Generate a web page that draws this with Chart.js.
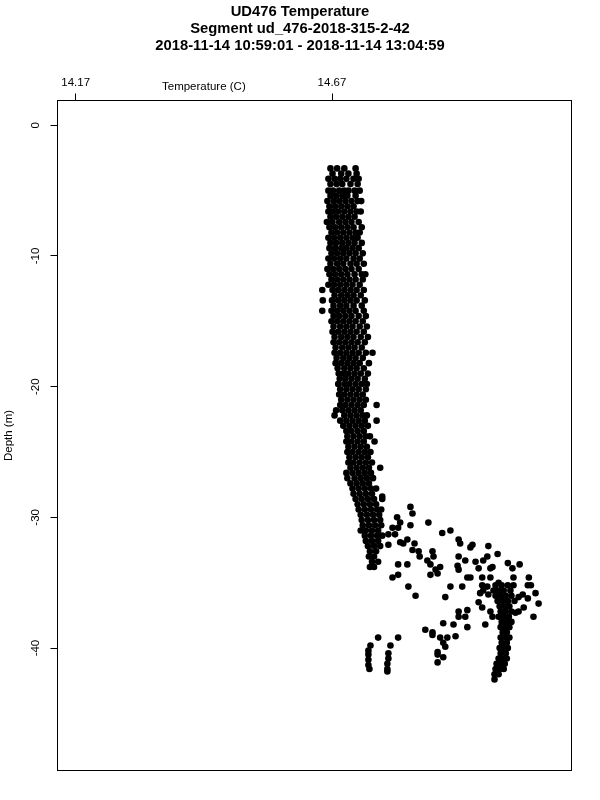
<!DOCTYPE html>
<html>
<head>
<meta charset="utf-8">
<script src="https://cdn.jsdelivr.net/npm/chart.js@4.4.0/dist/chart.umd.min.js"></script>
<style>
  html, body { margin: 0; padding: 0; background: #fff; }
  canvas { display: block; }
</style>
</head>
<body>
<canvas id="tempChart" width="600" height="800"></canvas>
<script>
const titleLines = [
  "UD476 Temperature",
  "Segment ud_476-2018-315-2-42",
  "2018-11-14 10:59:01 - 2018-11-14 13:04:59"
];
const tempTicks = [14.17, 14.67];
const depthTicks = [0, -10, -20, -30, -40];

// dense part of the profile: one row per depth level, temperatures read at that level
const rowDepths = [
  -3.3, -3.7, -4.1, -4.5, -5.0, -5.4, -5.8, -6.2, -6.6, -7.0,
  -7.4, -7.8, -8.2, -8.6, -9.0, -9.4, -9.8, -10.2, -10.6, -11.0,
  -11.4, -11.8, -12.2, -12.6, -13.0, -13.4, -13.8, -14.2, -14.6, -15.0,
  -15.4, -15.8, -16.2, -16.6, -17.0, -17.4, -17.8, -18.2, -18.6, -19.0,
  -19.4, -19.8, -20.2, -20.6, -21.0, -21.4, -21.8, -22.2, -22.6, -23.0,
  -23.4, -23.8, -24.2, -24.6, -25.0, -25.4, -25.8, -26.2, -26.6, -27.0,
  -27.4, -27.8, -28.2, -28.6, -29.0, -29.4, -29.8, -30.2, -30.6, -31.0,
  -31.4, -31.8, -32.2, -32.6, -33.0, -33.4, -33.8,
  // warm layer near the bottom
  -35.2, -35.6, -36.0, -36.4, -36.8, -37.2, -37.6, -38.0, -38.4, -38.8,
  -39.2, -39.6, -40.0, -40.4, -40.8, -41.2, -41.6, -42.0, -42.4
];
const rowTemps = [
  [14.667, 14.680, 14.694, 14.716],
  [14.671, 14.688, 14.702, 14.718],
  [14.663, 14.675, 14.686, 14.698, 14.712, 14.722],
  [14.667, 14.679, 14.690, 14.706, 14.720],
  [14.663, 14.672, 14.684, 14.694, 14.702, 14.714, 14.724],
  [14.667, 14.678, 14.690, 14.700, 14.716],
  [14.661, 14.673, 14.684, 14.696, 14.708, 14.720, 14.727],
  [14.665, 14.676, 14.688, 14.700, 14.712],
  [14.663, 14.672, 14.682, 14.694, 14.706, 14.718, 14.726],
  [14.667, 14.678, 14.690, 14.702, 14.714],
  [14.660, 14.671, 14.684, 14.696, 14.708, 14.722],
  [14.665, 14.676, 14.688, 14.700, 14.712, 14.728],
  [14.669, 14.680, 14.692, 14.704, 14.716, 14.724],
  [14.663, 14.674, 14.686, 14.698, 14.710, 14.720],
  [14.667, 14.678, 14.690, 14.702, 14.714, 14.728],
  [14.665, 14.676, 14.688, 14.698, 14.710, 14.722],
  [14.669, 14.680, 14.692, 14.704, 14.716, 14.730],
  [14.663, 14.674, 14.686, 14.698, 14.712, 14.724],
  [14.667, 14.680, 14.692, 14.706, 14.718, 14.732],
  [14.661, 14.672, 14.684, 14.696, 14.708, 14.722],
  [14.665, 14.676, 14.688, 14.700, 14.714, 14.728, 14.735],
  [14.669, 14.680, 14.692, 14.704, 14.716, 14.730],
  [14.663, 14.674, 14.686, 14.698, 14.710, 14.724],
  [14.651, 14.671, 14.682, 14.694, 14.706, 14.718, 14.732],
  [14.675, 14.688, 14.700, 14.712, 14.726],
  [14.652, 14.670, 14.682, 14.694, 14.706, 14.718, 14.734],
  [14.673, 14.686, 14.698, 14.712, 14.728],
  [14.651, 14.669, 14.680, 14.692, 14.704, 14.716, 14.732],
  [14.673, 14.684, 14.696, 14.708, 14.722, 14.736],
  [14.669, 14.680, 14.692, 14.704, 14.716, 14.730],
  [14.673, 14.686, 14.698, 14.710, 14.724, 14.738],
  [14.671, 14.682, 14.694, 14.706, 14.718, 14.732],
  [14.675, 14.688, 14.700, 14.712, 14.726, 14.740],
  [14.673, 14.684, 14.696, 14.708, 14.720, 14.734],
  [14.677, 14.690, 14.702, 14.714, 14.728],
  [14.675, 14.686, 14.698, 14.710, 14.722, 14.736, 14.749],
  [14.679, 14.692, 14.704, 14.716, 14.730],
  [14.677, 14.688, 14.700, 14.712, 14.724, 14.742],
  [14.681, 14.694, 14.706, 14.718, 14.732],
  [14.683, 14.692, 14.702, 14.714, 14.726, 14.740],
  [14.685, 14.696, 14.708, 14.720, 14.734],
  [14.682, 14.694, 14.704, 14.716, 14.728, 14.738],
  [14.686, 14.698, 14.710, 14.722, 14.736],
  [14.684, 14.694, 14.706, 14.718, 14.730],
  [14.688, 14.700, 14.712, 14.724, 14.736],
  [14.686, 14.696, 14.708, 14.720, 14.732, 14.757],
  [14.678, 14.690, 14.702, 14.714, 14.726],
  [14.675, 14.694, 14.706, 14.718, 14.730, 14.738],
  [14.686, 14.698, 14.710, 14.722, 14.734, 14.757],
  [14.692, 14.704, 14.716, 14.728, 14.740],
  [14.698, 14.708, 14.720, 14.732],
  [14.700, 14.712, 14.724, 14.736, 14.744],
  [14.698, 14.708, 14.720, 14.732, 14.753],
  [14.702, 14.714, 14.726, 14.738],
  [14.700, 14.710, 14.722, 14.734, 14.745],
  [14.704, 14.716, 14.728, 14.740],
  [14.702, 14.712, 14.724, 14.736, 14.748],
  [14.706, 14.718, 14.730, 14.742, 14.764],
  [14.698, 14.710, 14.722, 14.734, 14.746],
  [14.700, 14.714, 14.726, 14.738, 14.750],
  [14.706, 14.718, 14.730, 14.742],
  [14.710, 14.722, 14.734, 14.746, 14.756],
  [14.712, 14.724, 14.736, 14.748],
  [14.716, 14.728, 14.740, 14.752, 14.768],
  [14.720, 14.732, 14.744, 14.756],
  [14.722, 14.734, 14.746, 14.758, 14.766],
  [14.726, 14.738, 14.750, 14.762],
  [14.728, 14.740, 14.752, 14.764],
  [14.730, 14.742, 14.754, 14.766],
  [14.726, 14.736, 14.748, 14.760],
  [14.734, 14.746, 14.758, 14.768],
  [14.736, 14.748, 14.760],
  [14.740, 14.752, 14.764],
  [14.744, 14.756],
  [14.742, 14.752],
  [14.748, 14.760],
  [14.744, 14.752],
  [14.989, 15.001, 15.013, 15.024],
  [14.995, 15.005, 15.018],
  [14.989, 14.999, 15.009, 15.020],
  [14.993, 15.003, 15.013, 15.026],
  [14.997, 15.007, 15.016],
  [14.999, 15.009, 15.020],
  [14.995, 15.005, 15.015],
  [15.001, 15.011, 15.020],
  [14.999, 15.007, 15.016],
  [15.003, 15.011],
  [14.999, 15.009, 15.016],
  [15.001, 15.011],
  [14.997, 15.005, 15.013],
  [14.999, 15.009],
  [14.995, 15.003, 15.011],
  [14.991, 14.999, 15.007],
  [14.989, 14.997, 15.005],
  [14.987, 14.995],
  [14.987]
];

// scattered readings in the transition zone and the two short deep casts
const looseTemps = [
  14.768, 14.823, 14.827, 14.823, 14.797, 14.803, 14.858, 14.885, 14.901, 14.917,
  14.920, 14.940, 14.944, 14.975, 14.993, 14.831, 14.827, 14.839, 14.841, 14.856,
  14.866, 14.868, 14.780, 14.793, 14.799, 14.788, 14.803, 14.809, 14.817, 14.780,
  14.917, 14.930, 14.950, 14.965, 14.973, 15.013, 15.022, 15.036, 14.862, 14.872,
  14.881, 14.862, 14.876, 14.799, 14.817, 14.788, 14.799, 14.915, 14.917, 14.934,
  14.940, 14.956, 14.963, 14.979, 14.983, 14.979, 14.995, 15.024, 15.054, 14.819,
  14.833, 14.901, 14.924, 14.891, 14.963, 14.973, 14.965, 14.959, 14.975, 14.985,
  15.052, 15.058, 15.067, 15.034, 15.042, 15.052, 15.073, 15.028, 15.034, 15.063,
  14.956, 14.963, 14.979, 14.983, 14.969, 14.934, 14.917, 14.917, 14.930, 14.934,
  14.907, 14.887, 14.852, 14.866, 14.866, 14.881, 14.895, 14.911, 14.887, 14.891,
  14.876, 14.876, 14.887, 14.876, 15.044,
  14.760, 14.745, 14.741, 14.741, 14.741, 14.741, 14.743,
  14.799, 14.784, 14.780, 14.780, 14.778, 14.778, 14.778
];
const looseDepths = [
  -28.4, -29.2, -29.7, -30.6, -30.0, -30.4, -30.4, -31.2, -31.0, -31.7,
  -32.0, -32.3, -32.1, -32.2, -32.8, -32.0, -32.5, -32.6, -33.0, -33.3,
  -32.6, -33.0, -31.3, -31.3, -30.8, -30.8, -31.9, -32.0, -31.7, -32.1,
  -33.0, -33.3, -33.4, -33.3, -33.0, -33.5, -33.9, -33.6, -33.6, -34.0,
  -33.8, -34.4, -34.3, -33.6, -33.6, -34.6, -34.4, -33.7, -34.0, -34.6,
  -34.6, -33.9, -34.6, -33.9, -33.8, -34.6, -35.0, -34.6, -34.6, -35.3,
  -36.0, -35.3, -35.3, -36.1, -35.2, -35.3, -35.6, -35.8, -35.9, -35.6,
  -35.2, -35.2, -35.8, -36.1, -35.9, -36.2, -36.6, -37.3, -37.2, -37.6,
  -36.5, -36.9, -37.2, -37.6, -38.2, -37.1, -37.2, -37.6, -37.6, -38.4,
  -38.2, -38.1, -38.6, -38.8, -39.0, -39.2, -39.2, -39.1, -39.6, -39.9,
  -40.3, -40.5, -40.7, -41.1, -36.9,
  -39.2, -39.8, -40.2, -40.5, -40.9, -41.3, -41.6,
  -39.2, -39.8, -40.4, -40.8, -41.2, -41.6, -41.8
];

const points = [];
rowDepths.forEach((d, i) => rowTemps[i].forEach(t => points.push({x: t, y: d})));
looseTemps.forEach((t, i) => points.push({x: t, y: looseDepths[i]}));

const fontFamily = '"Liberation Sans", Arial, Helvetica, sans-serif';

// box round the plot and the temperature axis label between the two ticks
const boxAndLabel = {
  id: 'boxAndLabel',
  afterDraw(chart) {
    const {ctx, chartArea: a, scales: {x}} = chart;
    ctx.save();
    ctx.strokeStyle = '#000';
    ctx.lineWidth = 1;
    ctx.strokeRect(a.left, a.top, a.right - a.left, a.bottom - a.top);
    ctx.fillStyle = '#000';
    ctx.font = '11.5px ' + fontFamily;
    ctx.textAlign = 'center';
    ctx.textBaseline = 'middle';
    const mid = (x.getPixelForValue(tempTicks[0]) + x.getPixelForValue(tempTicks[1])) / 2;
    ctx.fillText('Temperature (C)', mid, 87);
    ctx.restore();
  }
};

const axisGrid = {
  drawOnChartArea: false,
  drawTicks: true,
  tickLength: 7,
  color: '#000',
  tickColor: '#000',
  lineWidth: 1
};

new Chart(document.getElementById('tempChart'), {
  type: 'scatter',
  data: {
    datasets: [{
      data: points,
      pointRadius: 3.3,
      pointBackgroundColor: '#000',
      pointBorderWidth: 0,
      showLine: false
    }]
  },
  options: {
    responsive: false,
    animation: false,
    events: [],
    layout: {
      autoPadding: false,
      padding: {top: 0, left: 0, right: 0, bottom: 29.5}
    },
    plugins: {
      legend: {display: false},
      tooltip: {enabled: false},
      title: {
        display: true,
        text: titleLines,
        color: '#000',
        font: {family: fontFamily, size: 14.8, weight: 'bold', lineHeight: '17px'},
        padding: {top: 3.5, bottom: 0}
      }
    },
    scales: {
      x: {
        type: 'linear',
        position: 'top',
        min: 14.1345,
        max: 15.1372,
        afterBuildTicks: s => { s.ticks = tempTicks.map(v => ({value: v})); },
        afterFit: s => { s.height = 100.5 - 54.5; },
        border: {display: false},
        grid: axisGrid,
        ticks: {
          color: '#000',
          font: {family: fontFamily, size: 11.5},
          padding: 4,
          maxRotation: 0,
          autoSkip: false,
          callback: v => v.toFixed(2)
        }
      },
      y: {
        type: 'linear',
        position: 'left',
        min: -49.37,
        max: 1.897,
        afterBuildTicks: s => { s.ticks = depthTicks.map(v => ({value: v})); },
        afterFit: s => { s.width = 57.5; },
        border: {display: false},
        grid: axisGrid,
        title: {
          display: true,
          text: 'Depth (m)',
          color: '#000',
          font: {family: fontFamily, size: 11.5},
          padding: {top: 2, bottom: 0}
        },
        ticks: {
          color: '#000',
          font: {family: fontFamily, size: 11.5},
          padding: 6,
          minRotation: 90,
          maxRotation: 90,
          crossAlign: 'center',
          autoSkip: false,
          callback: v => String(v)
        }
      },
      // empty right margin, same width as in the reference
      yRight: {
        type: 'linear',
        position: 'right',
        display: true,
        min: -49.37,
        max: 1.897,
        grid: {display: false},
        border: {display: false},
        ticks: {display: false},
        afterFit: s => { s.width = 28.5; }
      }
    }
  },
  plugins: [boxAndLabel]
});
</script>
</body>
</html>
